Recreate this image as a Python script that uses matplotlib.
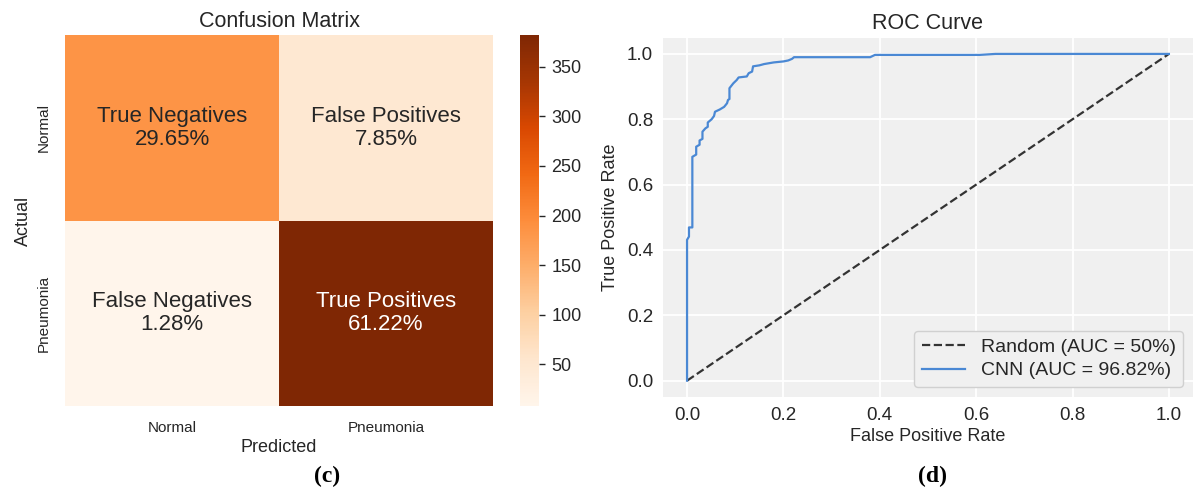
import numpy as np
import matplotlib
matplotlib.use('Agg')
import matplotlib.pyplot as plt
import seaborn as sns

# test-set confusion counts (rows: actual, cols: predicted)
class_names = ['Normal', 'Pneumonia']
cm_counts = [[185, 49],
             [8, 382]]
group_names = ['True Negatives', 'False Positives', 'False Negatives', 'True Positives']

# ROC staircase vertices (fpr, tpr)
cnn_fpr = [0.000, 0.000, 0.004, 0.004, 0.011, 0.011, 0.019, 0.019, 0.026, 0.026,
           0.032, 0.032, 0.038, 0.043, 0.043, 0.051, 0.056, 0.058, 0.068, 0.077,
           0.083, 0.085, 0.088, 0.088, 0.096, 0.103, 0.107, 0.124, 0.128, 0.135,
           0.137, 0.150, 0.160, 0.180, 0.200, 0.210, 0.218, 0.222, 0.380, 0.390,
           0.607, 0.640, 1.000]
cnn_tpr = [0.000, 0.431, 0.441, 0.469, 0.469, 0.685, 0.692, 0.716, 0.722, 0.735,
           0.740, 0.762, 0.772, 0.777, 0.790, 0.800, 0.810, 0.823, 0.830, 0.838,
           0.849, 0.859, 0.862, 0.895, 0.910, 0.920, 0.928, 0.931, 0.941, 0.946,
           0.962, 0.965, 0.969, 0.974, 0.977, 0.980, 0.985, 0.990, 0.990, 0.997,
           0.997, 1.000, 1.000]
random_fpr = [0, 1]
random_tpr = [0, 1]
cnn_auc = 96.82
random_auc = 50

plt.rcParams['font.family'] = ['Liberation Sans', 'DejaVu Sans']
plt.rcParams['text.color'] = '.15'
plt.rcParams['axes.labelcolor'] = '.15'
plt.rcParams['xtick.color'] = '.15'
plt.rcParams['ytick.color'] = '.15'

fig = plt.figure(figsize=(11.93, 4.9), dpi=100)

# confusion matrix
ax1 = fig.add_axes([0.0545, 0.1714, 0.3588, 0.7571])
cax = fig.add_axes([0.4359, 0.1714, 0.0159, 0.7571])
cm = np.array(cm_counts)
pct = cm / cm.sum() * 100
labels = np.array([f'{g}\n{p:.2f}%' for g, p in zip(group_names, pct.flatten())]).reshape(2, 2)
sns.heatmap(cm, annot=labels, fmt='', cmap='Oranges', ax=ax1, cbar_ax=cax,
            xticklabels=class_names, yticklabels=class_names,
            annot_kws={'fontsize': 16, 'linespacing': 1.1})
ax1.set_title('Confusion Matrix', fontsize=15.5, pad=6)
ax1.set_xlabel('Predicted', fontsize=13, labelpad=3)
ax1.set_ylabel('Actual', fontsize=13, labelpad=4)
ax1.tick_params(axis='x', length=0, labelsize=11, pad=11)
ax1.tick_params(axis='y', length=0, labelsize=11, pad=10)
plt.setp(ax1.get_yticklabels(), rotation=90, va='center')
cax.tick_params(labelsize=13, length=4, width=1, pad=5)
cax.set_yticks([50, 100, 150, 200, 250, 300, 350])
for s in cax.spines.values():
    s.set_visible(False)

# ROC curve
ax2 = fig.add_axes([0.5557, 0.1898, 0.4443, 0.7335])
ax2.set_facecolor('#f0f0f0')
ax2.grid(True, color='white', linewidth=1.3)
ax2.set_axisbelow(True)
for s in ax2.spines.values():
    s.set_visible(False)
ax2.plot(random_fpr, random_tpr, linestyle='--', color='#333333', linewidth=1.6,
         label=f'Random (AUC = {random_auc}%)')
ax2.plot(cnn_fpr, cnn_tpr, color='#4a88d4', linewidth=1.6,
         label=f'CNN (AUC = {cnn_auc:.2f}%)')
ax2.set_xlim(-0.05, 1.05)
ax2.set_ylim(-0.05, 1.05)
ax2.set_xticks([0.0, 0.2, 0.4, 0.6, 0.8, 1.0])
ax2.set_yticks([0.0, 0.2, 0.4, 0.6, 0.8, 1.0])
ax2.tick_params(length=0, labelsize=13.5, pad=7)
ax2.set_title('ROC Curve', fontsize=15.5, pad=6)
ax2.set_xlabel('False Positive Rate', fontsize=13, labelpad=3)
ax2.set_ylabel('True Positive Rate', fontsize=13, labelpad=6)
leg = ax2.legend(loc='lower right', fontsize=14, facecolor='#f0f0f0', edgecolor='#d0d0d0',
                 framealpha=1, handlelength=2.2, borderpad=0.4, labelspacing=0.3)

# panel captions
fig.text(0.274, 0.027, '(c)', fontsize=17, fontweight='bold', family='Liberation Serif',
         ha='center', va='center', color='black')
fig.text(0.782, 0.027, '(d)', fontsize=17, fontweight='bold', family='Liberation Serif',
         ha='center', va='center', color='black')

fig.savefig('out.png', dpi=100)
